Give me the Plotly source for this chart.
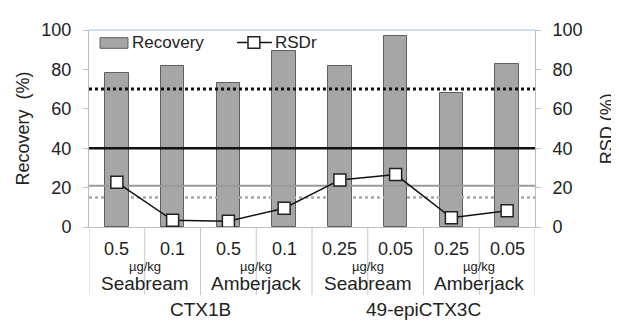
import plotly.graph_objects as go

levels = ["0.5", "0.1", "0.5", "0.1", "0.25", "0.05", "0.25", "0.05"]
fish = ["Seabream", "Amberjack", "Seabream", "Amberjack"]
toxins = ["CTX1B", "49-epiCTX3C"]
unit = "µg/kg"
recovery = [78, 81.5, 73, 89.5, 81.5, 97, 68, 82.5]
rsdr = [22.7, 3.4, 2.9, 9.5, 23.9, 26.6, 4.7, 8.3]
rec_limits = [70, 40]          # dotted, solid (black)
rsd_limits = [21, 15]          # solid, dotted (gray)
ticks = [0, 20, 40, 60, 80, 100]

FONT = "Liberation Sans, Arial, sans-serif"
TXT = "#222222"
BAR_FILL = "#a6a6a6"
BAR_LINE = "#5f5f5f"
n = len(levels)
xs = list(range(n))
x_lo, x_hi = -0.5, n - 0.5

fig = go.Figure()
fig.add_trace(go.Bar(x=xs, y=recovery, name="Recovery", width=0.42, showlegend=False,
                     marker=dict(color=BAR_FILL, line=dict(color=BAR_LINE, width=1))))

# threshold lines (drawn above bars)
fig.add_trace(go.Scatter(x=[x_lo, x_hi], y=[rec_limits[0]] * 2, mode="lines", showlegend=False,
                         line=dict(color="#111111", width=3, dash="dot"), hoverinfo="skip"))
fig.add_trace(go.Scatter(x=[x_lo, x_hi], y=[rec_limits[1]] * 2, mode="lines", showlegend=False,
                         line=dict(color="#111111", width=2.5), hoverinfo="skip"))
fig.add_trace(go.Scatter(x=[x_lo, x_hi], y=[rsd_limits[0]] * 2, mode="lines", showlegend=False,
                         line=dict(color="#9a9a9a", width=2), hoverinfo="skip"))
fig.add_trace(go.Scatter(x=[x_lo, x_hi], y=[rsd_limits[1]] * 2, mode="lines", showlegend=False,
                         line=dict(color="#a8a8a8", width=2.5, dash="dot"), hoverinfo="skip"))

fig.add_trace(go.Scatter(x=xs, y=rsdr, name="RSDr", yaxis="y2", mode="lines+markers",
                         showlegend=False,
                         line=dict(color="#111111", width=1.5),
                         marker=dict(symbol="square", size=12, color="white",
                                     line=dict(color="#222222", width=1.5))))

axis_common = dict(range=[0, 100], tickvals=ticks, showgrid=False, zeroline=False,
                   showline=True, linecolor="#bdbdbd", linewidth=1,
                   ticks="outside", ticklen=5, tickcolor="#bdbdbd", ticklabelstandoff=8,
                   tickfont=dict(family=FONT, size=18, color=TXT))

# page body has an 8px margin; size the figure to fill the rest of the window
fig.update_layout(
    width=611, height=313,
    margin=dict(l=81, r=84, t=15, b=94),
    paper_bgcolor="white", plot_bgcolor="white",
    bargap=0,
    xaxis=dict(range=[x_lo, x_hi], showticklabels=False, showgrid=False, zeroline=False,
               showline=True, linecolor="#bdbdbd", ticks=""),
    yaxis=dict(**axis_common),
    yaxis2=dict(**axis_common, overlaying="y", side="right"),
    showlegend=False,
)

shapes = []
# top border
shapes.append(dict(type="line", xref="paper", yref="paper", x0=0, x1=1, y0=1, y1=1,
                   line=dict(color="#9dc3e6", width=1)))
# category separators
for i in range(n + 1):
    shapes.append(dict(type="line", xref="x", yref="paper", x0=i - 0.5, x1=i - 0.5,
                       y0=0, y1=-0.345, line=dict(color="#c8c8c8", width=1)))
# legend: Recovery swatch
shapes.append(dict(type="rect", xref="paper", yref="paper", x0=0.0247, x1=0.0874,
                   y0=0.907, y1=0.961, fillcolor=BAR_FILL, line=dict(color=BAR_LINE, width=1)))
# legend: RSDr line + square
shapes.append(dict(type="line", xref="paper", yref="paper", x0=0.332, x1=0.410,
                   y0=0.936, y1=0.936, line=dict(color="#111111", width=1.5)))
shapes.append(dict(type="rect", xref="paper", yref="paper", x0=0.3565, x1=0.383,
                   y0=0.907, y1=0.966, fillcolor="white", line=dict(color="#222222", width=1.5)))
fig.update_layout(shapes=shapes)

ann = []
ann.append(dict(x=0.092, y=0.936, xref="paper", yref="paper", text="Recovery", showarrow=False,
                xanchor="left", yanchor="middle", font=dict(family=FONT, size=17, color=TXT)))
ann.append(dict(x=0.412, y=0.936, xref="paper", yref="paper", text="RSDr", showarrow=False,
                xanchor="left", yanchor="middle", font=dict(family=FONT, size=17, color=TXT)))
for i, lv in enumerate(levels):
    ann.append(dict(x=i, y=-0.113, xref="x", yref="paper", text=lv, showarrow=False,
                    yanchor="middle", font=dict(family=FONT, size=18, color=TXT)))
for j, f in enumerate(fish):
    cx = 2 * j + 0.5
    ann.append(dict(x=cx, y=-0.203, xref="x", yref="paper", text=unit, showarrow=False,
                    yanchor="middle", font=dict(family=FONT, size=13, color=TXT)))
    ann.append(dict(x=cx, y=-0.285, xref="x", yref="paper", text=f, showarrow=False,
                    yanchor="middle", font=dict(family=FONT, size=19, color=TXT)))
for k, t in enumerate(toxins):
    cx = 4 * k + 1.5
    ann.append(dict(x=cx, y=-0.418, xref="x", yref="paper", text=t, showarrow=False,
                    yanchor="middle", font=dict(family=FONT, size=19, color=TXT)))
ann.append(dict(x=-0.150, y=0.5, xref="paper", yref="paper", text="Recovery  (%)",
                textangle=-90, showarrow=False, xanchor="center", yanchor="middle",
                font=dict(family=FONT, size=18, color=TXT)))
ann.append(dict(x=1.161, y=0.5, xref="paper", yref="paper", text="RSD (%)",
                textangle=-90, showarrow=False, xanchor="center", yanchor="middle",
                font=dict(family=FONT, size=18, color=TXT)))
fig.update_layout(annotations=ann)

fig.write_html("out.html")
